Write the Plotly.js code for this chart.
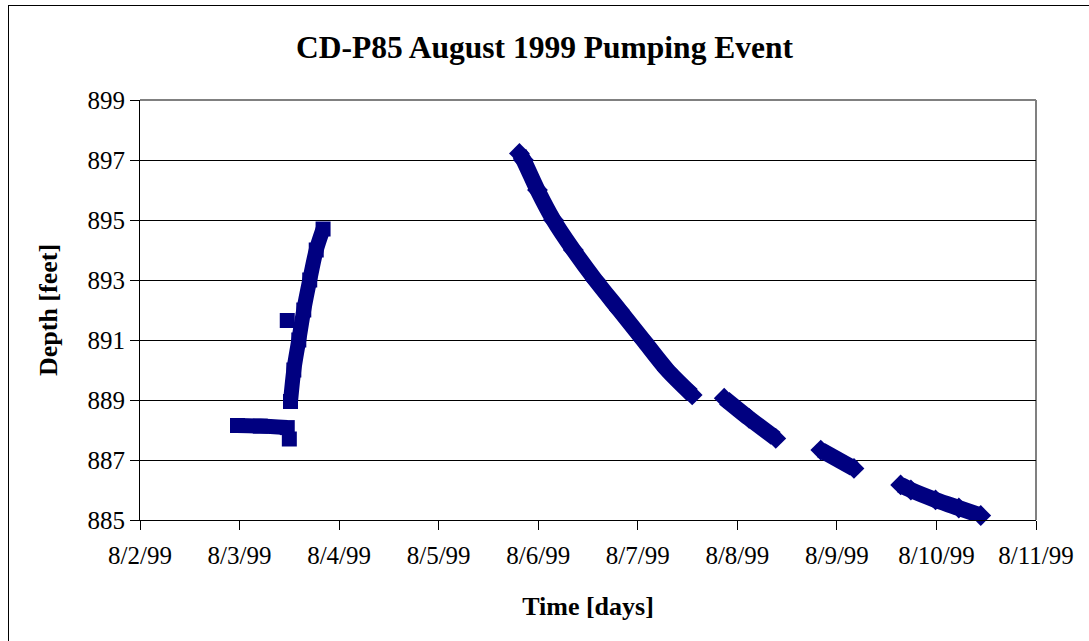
<!DOCTYPE html>
<html>
<head>
<meta charset="utf-8">
<script src="https://cdn.plot.ly/plotly-3.0.1.min.js"></script>
<style>
  html, body { margin: 0; padding: 0; background: #fff; }
  #wrap { position: relative; width: 1089px; height: 641px; overflow: hidden; }
  #chart { position: absolute; left: 0; top: 0; width: 1089px; height: 641px; }
  #frame { position: absolute; left: 8px; top: 5px; width: 1200px; height: 700px;
           border-left: 1px solid #000; border-top: 1px solid #000; pointer-events: none; }
</style>
</head>
<body>
<div id="wrap"><div id="chart"></div><div id="frame"></div></div>
<script>
// ---- Data ----
const flatTimes = ['1999-08-02 23:30', '1999-08-03 05:00', '1999-08-03 11:30'];
const flatDepth = [888.15, 888.13, 888.08];

const dropTimes = ['1999-08-03 12:00'];
const dropDepth = [887.7];

const spikeTimes = ['1999-08-03 11:30'];
const spikeDepth = [891.65];

const recoveryTimes = ['1999-08-03 12:17', '1999-08-03 13:05', '1999-08-03 14:17', '1999-08-03 15:29',
                       '1999-08-03 16:55', '1999-08-03 18:29', '1999-08-03 20:08'];
const recoveryDepth = [888.95, 890.0, 891.0, 892.0, 893.0, 894.0, 894.7];

const seg1Times = ['1999-08-05 19:28', '1999-08-05 20:26', '1999-08-05 23:49', '1999-08-06 03:40',
                   '1999-08-06 08:28', '1999-08-06 13:46', '1999-08-06 19:33', '1999-08-07 01:19',
                   '1999-08-07 07:06', '1999-08-07 13:07'];
const seg1Depth = [897.22, 897.0, 896.0, 895.0, 894.0, 893.0, 892.0, 891.0, 890.0, 889.17];

const seg2Times = ['1999-08-07 20:50', '1999-08-08 02:50', '1999-08-08 09:16'];
const seg2Depth = [889.06, 888.39, 887.72];

const seg3Times = ['1999-08-08 20:07', '1999-08-09 04:07'];
const seg3Depth = [887.33, 886.72];

const seg4Times = ['1999-08-09 15:22', '1999-08-09 17:50', '1999-08-09 23:47', '1999-08-10 05:24', '1999-08-10 10:41'];
const seg4Depth = [886.17, 886.0, 885.67, 885.4, 885.15];

const xRange = ['1999-08-02 00:00', '1999-08-11 00:00'];
const yRange = [885, 899];

// ---- Styles ----
const NAVY = '#000080';
function sq(x, y, withLine) {
  return {
    x: x, y: y, type: 'scatter', mode: withLine ? 'lines+markers' : 'markers',
    line: { color: NAVY, width: 15, shape: 'spline', smoothing: 0.8 },
    marker: { symbol: 'square', size: 15, color: NAVY },
    cliponaxis: false, showlegend: false, hoverinfo: 'x+y'
  };
}
function dm(x, y) {
  return {
    x: x, y: y, type: 'scatter', mode: 'lines+markers',
    line: { color: NAVY, width: 16, shape: 'spline', smoothing: 0.8 },
    marker: { symbol: 'diamond', size: 16, color: NAVY },
    cliponaxis: false, showlegend: false, hoverinfo: 'x+y'
  };
}

const traces = [
  sq(flatTimes, flatDepth, true),
  sq(dropTimes, dropDepth, false),
  sq(spikeTimes, spikeDepth, false),
  sq(recoveryTimes, recoveryDepth, true),
  dm(seg1Times, seg1Depth),
  dm(seg2Times, seg2Depth),
  dm(seg3Times, seg3Depth),
  dm(seg4Times, seg4Depth)
];

const SERIF = '"Liberation Serif", "Times New Roman", serif';
const layout = {
  width: 1089, height: 641,
  margin: { l: 140, r: 53, t: 100, b: 121 },
  paper_bgcolor: '#ffffff', plot_bgcolor: '#ffffff',
  font: { family: SERIF, color: '#000' },
  title: { text: '<b>CD-P85 August 1999 Pumping Event</b>', font: { family: SERIF, size: 31.5, color: '#000' },
           x: 0.5, xanchor: 'center', y: 1 - 47 / 641, yanchor: 'middle' },
  xaxis: {
    type: 'date', range: xRange, dtick: 86400000, tick0: '1999-08-02',
    tickformat: '%-m/%-d/%y', ticks: 'outside', ticklen: 9, tickcolor: '#000', tickwidth: 1,
    ticklabelstandoff: 4,
    showline: true, linecolor: '#000', linewidth: 1, showgrid: false, zeroline: false,
    tickfont: { family: SERIF, size: 25, color: '#000' },
    title: { text: '<b>Time [days]</b>', font: { family: SERIF, size: 26, color: '#000' }, standoff: 28 },
    fixedrange: true
  },
  yaxis: {
    range: yRange, dtick: 2, tick0: 885, ticks: 'outside', ticklen: 9, tickcolor: '#000', tickwidth: 1,
    showline: true, linecolor: '#000', linewidth: 1, showgrid: true, gridcolor: '#000', gridwidth: 1,
    zeroline: false, tickfont: { family: SERIF, size: 25, color: '#000' },
    title: { text: '<b>Depth [feet]</b>', font: { family: SERIF, size: 26, color: '#000' }, standoff: 22 },
    fixedrange: true
  },
  shapes: [
    { type: 'line', xref: 'paper', yref: 'paper', x0: 0, x1: 1, y0: 1, y1: 1, line: { color: '#808080', width: 2 }, layer: 'above' },
    { type: 'line', xref: 'paper', yref: 'paper', x0: 1, x1: 1, y0: 0, y1: 1, line: { color: '#808080', width: 2 }, layer: 'below' }
  ]
};

Plotly.newPlot('chart', traces, layout, { displayModeBar: false, staticPlot: true });
</script>
</body>
</html>
